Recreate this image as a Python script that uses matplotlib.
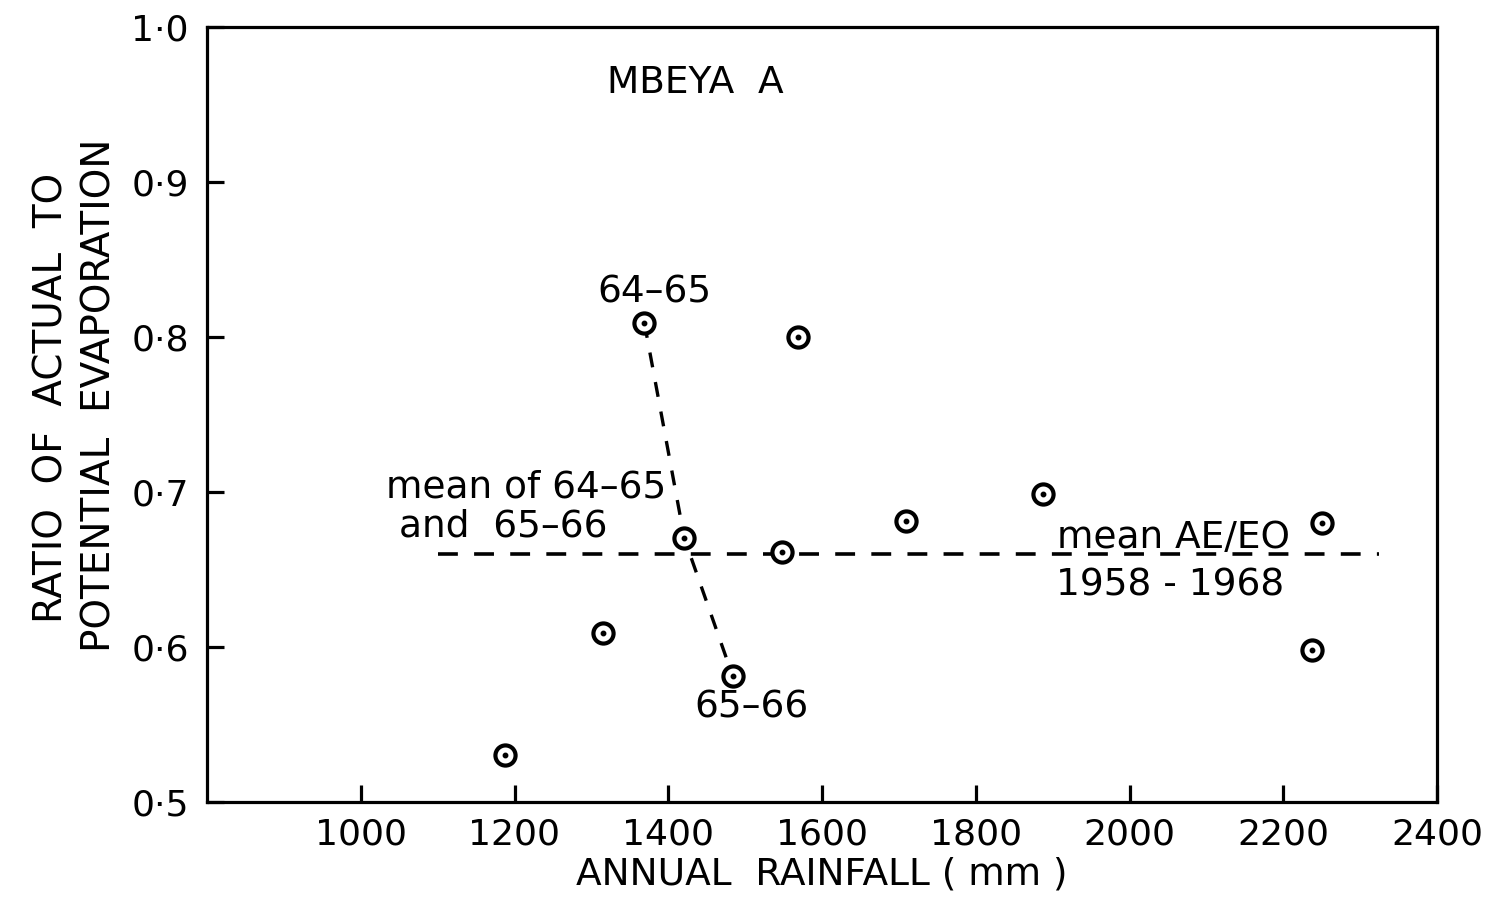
import numpy as np
import matplotlib
matplotlib.use("Agg")
import matplotlib.pyplot as plt

plt.rcParams['font.family'] = ['DejaVu Sans']

# annual rainfall (mm) and AE/EO ratio for each year
rainfall = [1188, 1315, 1369, 1421, 1484, 1548, 1569, 1709, 1887, 2251, 2237]
ratio = [0.530, 0.609, 0.809, 0.670, 0.581, 0.661, 0.800, 0.681, 0.699, 0.680, 0.598]

# 64-65, mean of both, 65-66
pair_x = [1369, 1421, 1484]
pair_y = [0.809, 0.670, 0.581]

mean_ratio = 0.66
mean_span = [1100, 2325]

xticks = [1000, 1200, 1400, 1600, 1800, 2000, 2200, 2400]
yticks = [0.5, 0.6, 0.7, 0.8, 0.9, 1.0]
ytick_labels = ['0·5', '0·6', '0·7', '0·8', '0·9', '1·0']

fig = plt.figure(figsize=(14.94, 9.05), dpi=100)
ax = fig.add_axes([207 / 1494, 1 - 802 / 905, 1230 / 1494, 775 / 905])

lw = 2.3
# dashed lines
ax.plot(mean_span, [mean_ratio, mean_ratio], color='black', lw=2.6,
        dashes=(5.5, 4.5), zorder=2)
ax.plot(pair_x, pair_y, color='black', lw=2.4, dashes=(4.5, 4.5), zorder=2)

# points: open circle with a dot in the centre
ax.plot(rainfall, ratio, 'o', ms=14.5, mfc='white', mec='black', mew=3,
        zorder=3, linestyle='none')
ax.plot(rainfall, ratio, 'o', ms=3.2, color='black', zorder=4,
        linestyle='none')

ax.set_xlim(800, 2400)
ax.set_ylim(0.5, 1.0)
ax.set_xticks(xticks)
ax.set_xticklabels([str(t) for t in xticks])
ax.set_yticks(yticks)
ax.set_yticklabels(ytick_labels)
ax.tick_params(direction='in', length=12, width=lw, labelsize=26)
ax.tick_params(axis='x', pad=11)
ax.tick_params(axis='y', pad=13)
for s in ax.spines.values():
    s.set_linewidth(lw)

fs = 27
ax.text(1435, 0.964, 'MBEYA  A', fontsize=fs, ha='center', va='center')
ax.text(1382, 0.829, '64–65', fontsize=fs, ha='center', va='center')
ax.text(1508, 0.561, '65–66', fontsize=fs, ha='center', va='center')
ax.text(1398, 0.703, 'mean of 64–65', fontsize=fs, ha='right', va='center')
ax.text(1050, 0.678, 'and  65–66', fontsize=fs, ha='left', va='center')
ax.text(1906, 0.67, 'mean AE/EO', fontsize=fs, ha='left', va='center')
ax.text(1904, 0.64, '1958 - 1968', fontsize=fs, ha='left', va='center')

ax.set_xlabel('ANNUAL  RAINFALL ( mm )', fontsize=fs, labelpad=4)
fig.text(52 / 1494, 1 - 398 / 905, 'RATIO  OF  ACTUAL  TO', rotation=90,
         fontsize=fs + 1, ha='center', va='center')
fig.text(100 / 1494, 1 - 395 / 905, 'POTENTIAL  EVAPORATION', rotation=90,
         fontsize=fs + 1, ha='center', va='center')

fig.savefig('out.png', dpi=100)
